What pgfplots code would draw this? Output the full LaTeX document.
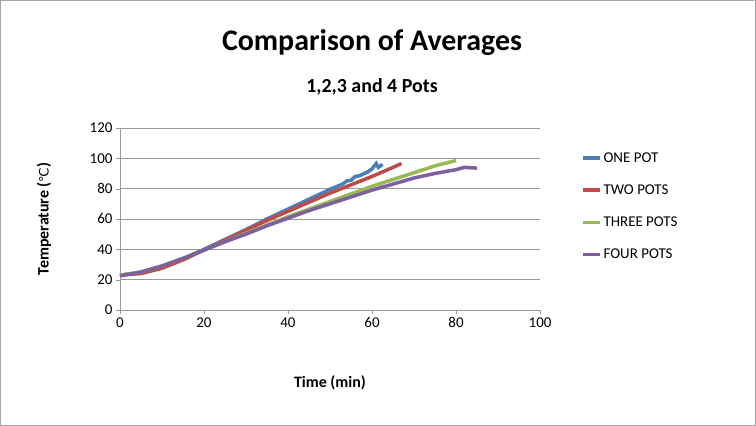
\documentclass[border=0pt]{standalone}
\usepackage{pgfplots}
\pgfplotsset{compat=1.18}
\usepackage{fontspec}
\setmainfont{Carlito}
\newfontfamily\dejavu{DejaVu Sans}
\definecolor{c1}{HTML}{4A7EBB}
\definecolor{c2}{HTML}{BE4B48}
\definecolor{c3}{HTML}{98B954}
\definecolor{c4}{HTML}{7D60A0}
\begin{document}
\begin{tikzpicture}[x=1bp,y=1bp]
\draw[gray!70, line width=0.8bp, fill=white] (0.5,0.5) rectangle (755.5,425.5);
\node[font=\bfseries\fontsize{30}{32}\selectfont] at (372,383) {Comparison of Averages};
\node[font=\bfseries\fontsize{20}{22}\selectfont] at (372,339) {1,2,3 and 4 Pots};
\node[font=\bfseries\fontsize{16}{18}\selectfont] at (330,43) {Time (min)};
\node[font=\bfseries\fontsize{16}{18}\selectfont, rotate=90] at (44,207) {Temperature ({\dejavu\mdseries\fontsize{13}{14}\selectfont ℃})};
\begin{axis}[at={(120bp,116bp)}, anchor=south west, scale only axis,
 width=420bp, height=182bp, xmin=0, xmax=100, ymin=0, ymax=120,
 xtick={0,20,...,100}, ytick={0,20,...,120},
 ymajorgrids, major grid style={gray!80},
 axis line style={gray!80}, axis x line*=bottom, axis y line*=left,
 tick style={gray!80}, tick align=outside, major tick length=4bp,
 ticklabel style={font=\fontsize{15}{16}\selectfont},
 /pgf/number format/assume math mode=true,
 legend style={at={(1.09,0.57)}, anchor=west, draw=none, fill=none, font=\fontsize{15}{17}\selectfont, row sep=17bp},
 legend cell align=left,
 every axis plot/.append style={line width=3.5bp, no marks}]
\addplot[c1] coordinates {(0,23) (5,24.5) (10,28) (15,33.5) (20,40) (25,46.5) (30,53) (35,60) (40,66.5) (45,73) (50,79.5) (53,83) (54,85) (55,85.5) (56,88) (57,88.5) (59,91) (60,93) (61,96.5) (61.5,94) (62.5,96)};
\addplot[c2] coordinates {(0,23) (5,24) (10,27.5) (15,33) (20,39.5) (25,46) (30,52.5) (35,59) (40,65) (45,71) (50,77) (55,82.5) (60,88) (65,94) (67,96.5)};
\addplot[c3] coordinates {(0,23) (5,25) (10,29) (15,34) (20,39.5) (25,45) (30,50.5) (35,56) (40,61.5) (45,66.5) (50,71.5) (55,76.5) (60,81.5) (65,86) (70,90.5) (75,95) (80,98.5)};
\addplot[c4] coordinates {(0,22.5) (5,25) (10,29) (15,34) (20,39.5) (25,45) (30,50) (35,55.5) (40,60.5) (45,65.5) (50,70) (55,74.5) (60,79) (65,83) (70,87) (75,90) (80,92.5) (82,94) (85,93.5)};
\legend{ONE POT, TWO POTS, THREE POTS, FOUR POTS}
\end{axis}
\end{tikzpicture}
\end{document}
